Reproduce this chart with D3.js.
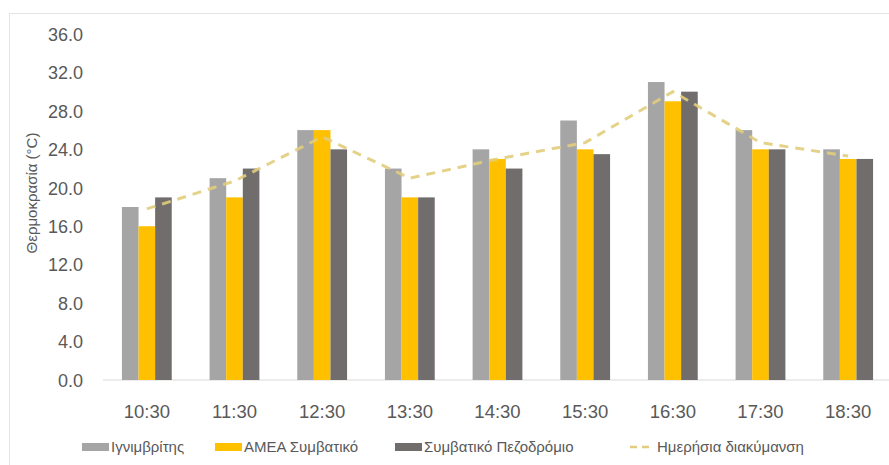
<!DOCTYPE html>
<html>
<head>
<meta charset="utf-8">
<script src="https://cdn.jsdelivr.net/npm/d3@7"></script>
<style>
  html, body { margin: 0; padding: 0; background: #ffffff; }
  svg { display: block; }
  text { font-family: "Liberation Sans", Arial, sans-serif; fill: #595959; }
</style>
</head>
<body>
<svg id="chart" width="889" height="465"></svg>
<script>
// Hourly measurements
const times = ["10:30", "11:30", "12:30", "13:30", "14:30", "15:30", "16:30", "17:30", "18:30"];
const ignimbrite = [18, 21, 26, 22, 24, 27, 31, 26, 24];
const ameaConventional = [16, 19, 26, 19, 23, 24, 29, 24, 23];
const conventionalSidewalk = [19, 22, 24, 19, 22, 23.5, 30, 24, 23];
const dailyRange = [17.8, 20.7, 25.3, 21.0, 23.0, 24.7, 30.0, 24.7, 23.3];
const yTicks = [0, 4, 8, 12, 16, 20, 24, 28, 32, 36];

const barSeries = [
  { name: "Ιγνιμβρίτης", values: ignimbrite, color: "#a5a5a5" },
  { name: "ΑΜΕΑ Συμβατικό", values: ameaConventional, color: "#ffc000" },
  { name: "Συμβατικό Πεζοδρόμιο", values: conventionalSidewalk, color: "#716d6d" }
];
const lineSeries = { name: "Ημερήσια διακύμανση", values: dailyRange, color: "#e2cd7c" };

const svg = d3.select("#chart");

// Chart frame
svg.append("rect")
  .attr("x", 9.5).attr("y", 13.5)
  .attr("width", 900).attr("height", 480)
  .attr("fill", "#ffffff")
  .attr("stroke", "#e4e4e4");

const plot = { left: 103, right: 892, top: 34, bottom: 380 };

const x = d3.scaleBand()
  .domain(times)
  .range([plot.left, plot.right]);

const y = d3.scaleLinear()
  .domain([0, 36])
  .range([plot.bottom, plot.top]);

const barW = 16.6;
const groupW = barW * barSeries.length;

// Y axis labels
const yAxis = d3.axisLeft(y).tickValues(yTicks).tickFormat(d3.format(".1f")).tickSize(0).tickPadding(0);
const gy = svg.append("g").attr("transform", `translate(83,0)`).call(yAxis);
gy.select(".domain").remove();
gy.selectAll("text").style("font-size", "18px").attr("fill", "#595959").attr("dy", "0.35em");

// Baseline
svg.append("line")
  .attr("x1", plot.left).attr("x2", plot.right)
  .attr("y1", y(0)).attr("y2", y(0))
  .attr("stroke", "#d9d9d9").attr("stroke-width", 1.2);

// X axis labels
const xAxis = d3.axisBottom(x).tickSize(0).tickPadding(0);
const gx = svg.append("g").attr("transform", `translate(0,${y(0)})`).call(xAxis);
gx.select(".domain").remove();
gx.selectAll("text").style("font-size", "18.5px").attr("fill", "#595959").attr("y", 38).attr("dy", "0");

// Bars
barSeries.forEach((s, i) => {
  svg.append("g").selectAll("rect")
    .data(s.values)
    .join("rect")
    .attr("x", (d, j) => x(times[j]) + x.bandwidth() / 2 - groupW / 2 + i * barW)
    .attr("y", d => y(d))
    .attr("width", barW)
    .attr("height", d => y(0) - y(d))
    .attr("fill", s.color);
});

// Daily range line
const line = d3.line()
  .x((d, j) => x(times[j]) + x.bandwidth() / 2)
  .y(d => y(d));
svg.append("path")
  .datum(lineSeries.values)
  .attr("d", line)
  .attr("fill", "none")
  .attr("stroke", lineSeries.color)
  .attr("stroke-width", 3)
  .attr("stroke-dasharray", "9,7")
  .attr("opacity", 0.9);

// Y axis title
svg.append("text")
  .attr("transform", `translate(37,193) rotate(-90)`)
  .attr("text-anchor", "middle")
  .style("font-size", "15px")
  .text("Θερμοκρασία (°C)");

// Legend
const legendItems = barSeries.map(s => ({ name: s.name, color: s.color, type: "bar" }))
  .concat([{ name: lineSeries.name, color: lineSeries.color, type: "line" }]);
const legendX = [82, 215, 395, 628];
const legend = svg.append("g").attr("transform", "translate(0,447)");
legendItems.forEach((item, k) => {
  const g = legend.append("g").attr("transform", `translate(${legendX[k]},0)`);
  if (item.type === "bar") {
    g.append("rect").attr("x", 0).attr("y", -4).attr("width", 27).attr("height", 8).attr("fill", item.color);
  } else {
    g.append("line").attr("x1", 2).attr("x2", 26).attr("y1", 0).attr("y2", 0)
      .attr("stroke", item.color).attr("stroke-width", 2.5).attr("stroke-dasharray", "7,5");
  }
  g.append("text").attr("x", 29).attr("y", 0).attr("dy", "0.35em")
    .style("font-size", "15px").text(item.name);
});
</script>
</body>
</html>
